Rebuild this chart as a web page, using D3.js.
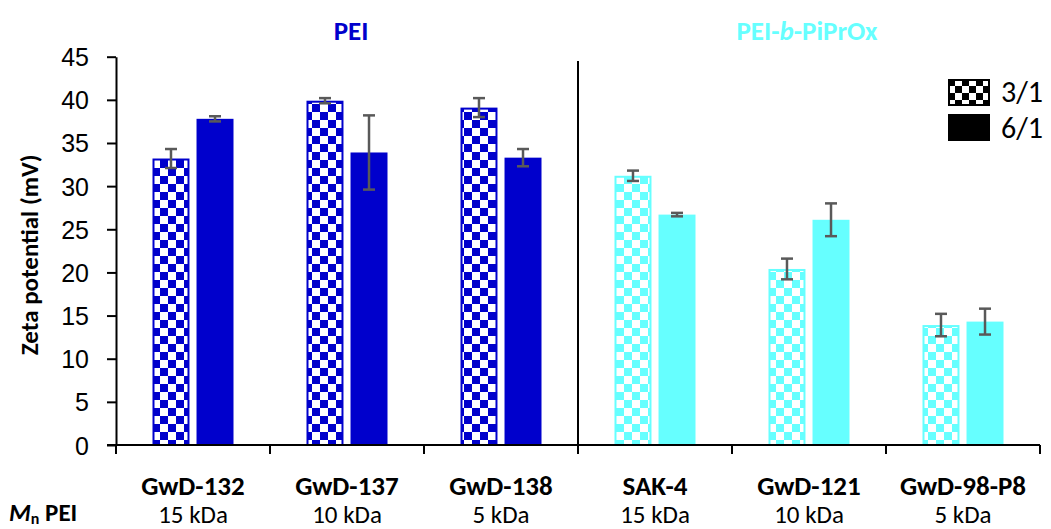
<!DOCTYPE html>
<html>
<head>
<meta charset="utf-8">
<script src="https://cdn.jsdelivr.net/npm/d3@7"></script>
<style>
  body { margin: 0; background: #fff; }
  svg { display: block; font-family: Carlito, Lato, "Open Sans", sans-serif; }
</style>
</head>
<body>
<script>
// chart data
const CATEGORIES = ['GwD-132', 'GwD-137', 'GwD-138', 'SAK-4', 'GwD-121', 'GwD-98-P8'];
const MN_LABELS = ['15 kDa', '10 kDa', '5 kDa', '15 kDa', '10 kDa', '5 kDa'];
const GROUP_OF = ['PEI', 'PEI', 'PEI', 'PEI-b-PiPrOx', 'PEI-b-PiPrOx', 'PEI-b-PiPrOx'];
const SERIES = ['3/1', '6/1'];
const VALUES_31 = [33.2, 39.9, 39.1, 31.2, 20.4, 13.9];
const ERRORS_31 = [1.1, 0.3, 1.1, 0.6, 1.2, 1.3];
const VALUES_61 = [37.8, 33.9, 33.3, 26.7, 26.1, 14.3];
const ERRORS_61 = [0.3, 4.3, 1.0, 0.2, 1.9, 1.5];
const Y_TICKS = [0, 5, 10, 15, 20, 25, 30, 35, 40, 45];

const WIDTH = 1051;
const HEIGHT = 529;
const PLOT_LEFT = 116;
const PLOT_RIGHT = 1040;
const PLOT_TOP = 56.7;
const PLOT_BOT = 445;

const GROUP_COLOR = { 'PEI': '#0000cc', 'PEI-b-PiPrOx': '#66ffff' };
const ERR_COLOR = '#595959';

const svg = d3.select('body')
  .append('svg')
    .attr('width', WIDTH)
    .attr('height', HEIGHT);

// checker patterns
const defs = svg.append('defs');
const addChecker = (id, color, size) => {
  const p = defs.append('pattern')
      .attr('id', id)
      .attr('patternUnits', 'userSpaceOnUse')
      .attr('width', size * 2)
      .attr('height', size * 2);
  p.append('rect').attr('width', size * 2).attr('height', size * 2).attr('fill', '#fff');
  p.append('rect').attr('width', size).attr('height', size).attr('fill', color);
  p.append('rect').attr('x', size).attr('y', size).attr('width', size).attr('height', size).attr('fill', color);
};
addChecker('chk-PEI', GROUP_COLOR['PEI'], 8);
addChecker('chk-PEI-b-PiPrOx', GROUP_COLOR['PEI-b-PiPrOx'], 8);
addChecker('chk-legend', '#000', 7);

// scales
const x = d3.scaleBand()
    .domain(CATEGORIES)
    .range([PLOT_LEFT, PLOT_RIGHT]);

const pair = x.bandwidth() * 0.526;
const xInner = d3.scaleBand()
    .domain(SERIES)
    .range([(x.bandwidth() - pair) / 2, (x.bandwidth() + pair) / 2])
    .paddingInner(0.16);

const y = d3.scaleLinear()
    .domain([0, 45])
    .range([PLOT_BOT, PLOT_TOP]);

// bars
const rows = [];
CATEGORIES.forEach((c, i) => {
  rows.push({ cat: c, group: GROUP_OF[i], series: '3/1', value: VALUES_31[i], err: ERRORS_31[i] });
  rows.push({ cat: c, group: GROUP_OF[i], series: '6/1', value: VALUES_61[i], err: ERRORS_61[i] });
});

svg.append('g')
  .selectAll('rect')
  .data(rows)
  .enter()
  .append('rect')
    .attr('x', d => x(d.cat) + xInner(d.series) + 1)
    .attr('y', d => y(d.value) + 1)
    .attr('width', xInner.bandwidth() - 2)
    .attr('height', d => y(0) - y(d.value) - 1)
    .attr('fill', d => d.series === '3/1' ? `url(#chk-${d.group})` : GROUP_COLOR[d.group])
    .attr('stroke', d => GROUP_COLOR[d.group])
    .attr('stroke-width', 2);

// error bars
const errG = svg.append('g')
  .selectAll('g')
  .data(rows)
  .enter()
  .append('g')
    .attr('stroke', ERR_COLOR)
    .attr('stroke-width', 2.5);
const cx = d => x(d.cat) + xInner(d.series) + xInner.bandwidth() / 2;
errG.append('line')
    .attr('x1', cx).attr('x2', cx)
    .attr('y1', d => y(d.value + d.err)).attr('y2', d => y(d.value - d.err));
errG.append('line')
    .attr('x1', d => cx(d) - 6).attr('x2', d => cx(d) + 6)
    .attr('y1', d => y(d.value + d.err)).attr('y2', d => y(d.value + d.err));
errG.append('line')
    .attr('x1', d => cx(d) - 6).attr('x2', d => cx(d) + 6)
    .attr('y1', d => y(d.value - d.err)).attr('y2', d => y(d.value - d.err));

// y axis
const yAxis = d3.axisLeft(y)
    .tickValues(Y_TICKS)
    .tickSize(9)
    .tickSizeOuter(0)
    .tickPadding(18);
const yg = svg.append('g')
    .attr('transform', `translate(${PLOT_LEFT}, 0)`)
    .call(yAxis);
yg.select('.domain').attr('stroke', '#000').attr('stroke-width', 2);
yg.selectAll('.tick line').attr('stroke', '#000').attr('stroke-width', 2);
yg.selectAll('.tick text')
    .attr('fill', '#000')
    .attr('dy', '0.36em')
    .style('font-size', '25px');

// x axis
const xBounds = CATEGORIES.map(c => x(c)).concat([PLOT_RIGHT]);
svg.append('line')
    .attr('x1', PLOT_LEFT - 9).attr('x2', PLOT_RIGHT)
    .attr('y1', y(0)).attr('y2', y(0))
    .attr('stroke', '#000').attr('stroke-width', 2);
svg.append('g')
  .selectAll('line')
  .data(xBounds)
  .enter()
  .append('line')
    .attr('x1', d => d).attr('x2', d => d)
    .attr('y1', y(0)).attr('y2', y(0) + 9)
    .attr('stroke', '#000').attr('stroke-width', 2);

// category labels
svg.append('g')
  .selectAll('text')
  .data(CATEGORIES)
  .enter()
  .append('text')
    .attr('x', d => x(d) + x.bandwidth() / 2)
    .attr('y', 495)
    .attr('text-anchor', 'middle')
    .style('font-size', '27px')
    .style('font-weight', 'bold')
    .text(d => d);

svg.append('g')
  .selectAll('text')
  .data(MN_LABELS)
  .enter()
  .append('text')
    .attr('x', (d, i) => x(CATEGORIES[i]) + x.bandwidth() / 2)
    .attr('y', 523)
    .attr('text-anchor', 'middle')
    .style('font-size', '25px')
    .text(d => d);

// Mn PEI row label
const mn = svg.append('text')
    .attr('x', 9)
    .attr('y', 521)
    .style('font-size', '25px')
    .style('font-weight', 'bold');
mn.append('tspan').style('font-style', 'italic').text('M');
mn.append('tspan').attr('dy', 3).style('font-size', '16px').text('n');
mn.append('tspan').attr('dy', -3).text(' PEI');

// y axis title
svg.append('text')
    .attr('transform', `translate(38, ${(PLOT_TOP + PLOT_BOT) / 2 + 4}) rotate(-90)`)
    .attr('text-anchor', 'middle')
    .style('font-size', '25px')
    .style('font-weight', 'bold')
    .text('Zeta potential (mV)');

// group separator
svg.append('line')
    .attr('x1', x('SAK-4')).attr('x2', x('SAK-4'))
    .attr('y1', 61).attr('y2', y(0))
    .attr('stroke', '#000').attr('stroke-width', 2);

// group titles
svg.append('text')
    .attr('x', (PLOT_LEFT + x('SAK-4')) / 2 + 4)
    .attr('y', 40)
    .attr('text-anchor', 'middle')
    .attr('fill', GROUP_COLOR['PEI'])
    .style('font-size', '27px')
    .style('font-weight', 'bold')
    .text('PEI');
const t2 = svg.append('text')
    .attr('x', (x('SAK-4') + PLOT_RIGHT) / 2 - 2)
    .attr('y', 40)
    .attr('text-anchor', 'middle')
    .attr('fill', GROUP_COLOR['PEI-b-PiPrOx'])
    .style('font-size', '27px')
    .style('font-weight', 'bold');
t2.append('tspan').text('PEI-');
t2.append('tspan').style('font-style', 'italic').text('b');
t2.append('tspan').text('-PiPrOx');

// legend
const legend = svg.append('g')
    .attr('transform', 'translate(948, 79)');
legend.selectAll('rect')
  .data(SERIES)
  .enter()
  .append('rect')
    .attr('x', 1)
    .attr('y', (d, i) => i * 35 + 1)
    .attr('width', 40)
    .attr('height', 25)
    .attr('fill', d => d === '3/1' ? 'url(#chk-legend)' : '#000')
    .attr('stroke', '#000')
    .attr('stroke-width', 2);
legend.selectAll('text')
  .data(SERIES)
  .enter()
  .append('text')
    .attr('x', 53)
    .attr('y', (d, i) => i * 36 + 23)
    .style('font-size', '30px')
    .text(d => d);
</script>
</body>
</html>
